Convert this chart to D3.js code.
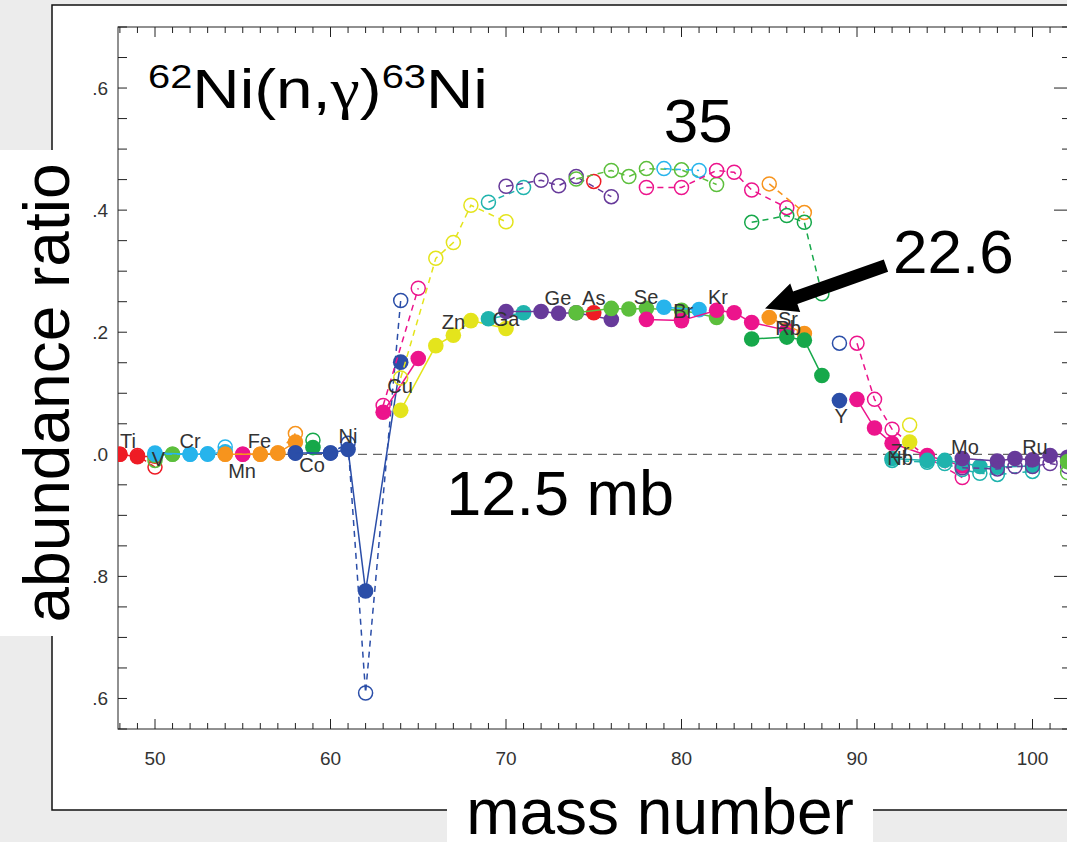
<!DOCTYPE html>
<html>
<head>
<meta charset="utf-8">
<script src="https://cdn.jsdelivr.net/npm/d3@7"></script>
<style>
  html, body { margin: 0; padding: 0; background: #ececec; }
  svg { display: block; font-family: "Liberation Sans", Arial, Helvetica, sans-serif; }
</style>
</head>
<body>
<svg id="chart" width="1067" height="842"></svg>
<script>
// ---------------- data ----------------
const elements = ["Ti","V","Cr","Mn","Fe","Co","Ni","Cu","Zn","Ga","Ge","As","Se","Br","Kr","Rb","Sr","Y","Zr","Nb","Mo","Ru","Pd"];
const palette = ["#ee1c25","#5cbf3c","#27b4ec","#ec148c","#f7941d","#16a84a","#2b4ea8","#ec148c","#e4e41c","#1fb3ad","#673a9a","#ee1c25","#5cbf3c","#27b4ec","#ec148c","#f7941d","#16a84a","#2b4ea8","#ec148c","#e4e41c","#1fb3ad","#673a9a","#5cbf3c"];

const isotopeMasses = [
  [48,49,50], [50,51], [50,52,53,54], [55], [54,56,57,58], [59], [58,60,61,62,64],
  [63,65], [64,66,67,68,70], [69,71], [70,72,73,74,76], [75], [74,76,77,78,80,82],
  [79,81], [78,80,82,83,84,86], [85,87], [84,86,87,88], [89], [90,91,92,94,96],
  [93], [92,94,95,96,97,98,100], [96,98,99,100,101,102], [102]
];
// abundance ratios, sigma = 22.6 mb (filled, solid)
const ratio226 = [
  [1.000,0.996,0.997], [0.998,1.000], [1.002,1.000,1.000,1.004], [1.000], [1.000,1.000,1.002,1.020], [1.011],
  [1.002,1.002,1.008,0.776,1.151], [1.069,1.157], [1.072,1.178,1.195,1.219,1.206], [1.222,1.232],
  [1.234,1.234,1.231,1.232,1.221], [1.232], [1.232,1.239,1.238,1.239,1.236,1.224], [1.241,1.237],
  [1.221,1.219,1.236,1.232,1.216,1.203], [1.224,1.198], [1.189,1.192,1.187,1.129], [1.088],
  [1.090,1.043,1.018,0.998,0.981], [1.020], [0.993,0.990,0.990,0.986,0.980,0.979,0.981],
  [0.993,0.989,0.993,0.991,0.998,0.995], [0.988]
];
// abundance ratios, sigma = 35 mb (open, dashed)
const ratio35 = [
  [1.000,0.998,0.979], [0.990,1.000], [1.000,1.000,1.001,1.012], [1.000], [1.000,1.000,1.002,1.034], [1.023],
  [1.002,1.002,1.018,0.609,1.252], [1.080,1.272], [1.125,1.321,1.347,1.408,1.381], [1.413,1.437],
  [1.439,1.449,1.440,1.455,1.422], [1.447], [1.451,1.465,1.455,1.468,1.466,1.442], [1.468,1.465],
  [1.437,1.437,1.465,1.462,1.433,1.404], [1.443,1.396], [1.380,1.391,1.380,1.263], [1.182],
  [1.182,1.090,1.041,0.995,0.962], [1.048], [0.990,0.987,0.985,0.975,0.969,0.967,0.972],
  [0.978,0.976,0.980,0.980,0.985,0.980], [0.970]
];

// element labels (anchor in data units: mass, ratio)
const labelNames = ["Ti","V","Cr","Mn","Fe","Co","Ni","Cu","Zn","Ga","Ge","As","Se","Br","Kr","Sr","Rb","Y","Zr","Nb","Mo","Ru"];
const labelMass  = [48.46,50.2,52.0,54.96,55.95,58.95,61.0,63.96,67.0,70.0,72.96,75.0,77.98,80.1,82.08,86.07,86.07,89.1,92.45,92.45,96.15,100.14];
const labelRatio = [1.011,0.981,1.011,0.962,1.011,0.971,1.018,1.100,1.206,1.211,1.244,1.244,1.247,1.223,1.247,1.211,1.195,1.051,0.994,0.982,1.000,1.000];

const xTickValues = [50,60,70,80,90,100];
const yTickValues = [1.6,1.4,1.2,1.0,0.8,0.6];
const yTickLabels = [".6",".4",".2",".0",".8",".6"];

// ---------------- layout ----------------
const svg = d3.select("#chart");
const W = 1067, H = 842;
const plot = {left: 118, top: 27, bottom: 729, right: 1069};

const x = d3.scaleLinear().domain([50, 100]).range([155, 1032.5]);
const y = d3.scaleLinear().domain([0.55, 1.7]).range([plot.bottom, plot.top]);
const color = d3.scaleOrdinal(elements, palette);

// background
svg.append("rect").attr("width", W).attr("height", H).attr("fill", "#ececec");
svg.append("rect").attr("x", 52).attr("y", 5).attr("width", 1100).attr("height", 805)
  .attr("fill", "#fff").attr("stroke", "#111").attr("stroke-width", 1.5);

// clip
svg.append("clipPath").attr("id", "clip").append("rect")
  .attr("x", plot.left).attr("y", plot.top)
  .attr("width", plot.right - plot.left).attr("height", plot.bottom - plot.top);

// frame
svg.append("rect").attr("x", plot.left).attr("y", plot.top)
  .attr("width", plot.right - plot.left).attr("height", plot.bottom - plot.top)
  .attr("fill", "none").attr("stroke", "#222").attr("stroke-width", 1);

// ticks
const xMinor = d3.range(48, 103, 1);
const tickG = svg.append("g").attr("stroke", "#222").attr("stroke-width", 1);
xMinor.forEach(m => {
  const len = m % 10 === 0 ? 10 : 6;
  const px = x(m);
  if (px < plot.left || px > plot.right) return;
  tickG.append("line").attr("x1", px).attr("x2", px).attr("y1", plot.bottom).attr("y2", plot.bottom - len);
  tickG.append("line").attr("x1", px).attr("x2", px).attr("y1", plot.top).attr("y2", plot.top + len);
});
const yMinor = d3.range(0.55, 1.701, 0.05);
yMinor.forEach(v => {
  const py = y(v);
  const major = Math.abs(Math.round(v * 10) / 10 - v) < 1e-6 && Math.round(v * 10) % 2 === 0;
  tickG.append("line").attr("x1", plot.left).attr("x2", plot.left + 9).attr("y1", py).attr("y2", py);
  tickG.append("line").attr("x1", plot.right).attr("x2", plot.right - (major ? 15 : 7)).attr("y1", py).attr("y2", py);
});

// tick labels
svg.append("g").selectAll("text").data(xTickValues).join("text")
  .attr("x", d => x(d)).attr("y", 765).attr("text-anchor", "middle")
  .attr("font-size", 19).attr("fill", "#333").text(d => d);
svg.append("g").selectAll("text").data(yTickValues).join("text")
  .attr("x", 108).attr("y", d => y(d) + 7).attr("text-anchor", "end")
  .attr("font-size", 19).attr("fill", "#333").text((d, i) => yTickLabels[i]);

// reference line at 1.0
svg.append("line").attr("x1", plot.left).attr("x2", plot.right)
  .attr("y1", y(1.0)).attr("y2", y(1.0))
  .attr("stroke", "#666").attr("stroke-width", 1.3).attr("stroke-dasharray", "9,6");

// series
const seriesG = svg.append("g").attr("clip-path", "url(#clip)");
const line = d3.line().x(d => x(d[0])).y(d => y(d[1]));
elements.forEach((el, i) => {
  const c = color(el);
  const filled = isotopeMasses[i].map((m, j) => [m, ratio226[i][j]]);
  const open = isotopeMasses[i].map((m, j) => [m, ratio35[i][j]]);
  const g = seriesG.append("g");
  if (filled.length > 1) g.append("path").datum(filled).attr("d", line)
    .attr("fill", "none").attr("stroke", c).attr("stroke-width", 1.5);
  g.selectAll("circle.f").data(filled).join("circle").attr("class", "f")
    .attr("cx", d => x(d[0])).attr("cy", d => y(d[1])).attr("r", 7.8).attr("fill", c);
  if (open.length > 1) g.append("path").datum(open).attr("d", line)
    .attr("fill", "none").attr("stroke", c).attr("stroke-width", 1.5).attr("stroke-dasharray", "6,5");
  g.selectAll("circle.o").data(open).join("circle").attr("class", "o")
    .attr("cx", d => x(d[0])).attr("cy", d => y(d[1])).attr("r", 7)
    .attr("fill", "none").attr("stroke", c).attr("stroke-width", 1.5);
});

// element labels
svg.append("g").attr("clip-path", "url(#clip)").selectAll("text").data(labelNames).join("text")
  .attr("x", (d, i) => x(labelMass[i])).attr("y", (d, i) => y(labelRatio[i]))
  .attr("text-anchor", "middle").attr("font-size", 20).attr("fill", "#333").text(d => d);

// title
const title = svg.append("g");
const tt = title.append("text").attr("x", 0).attr("y", 0).attr("fill", "#000");
tt.append("tspan").attr("font-size", 34).attr("dy", -20).text("62");
tt.append("tspan").attr("font-size", 56).attr("dy", 20).text("Ni(n,");
tt.append("tspan").attr("font-size", 56).attr("font-family", "'Liberation Serif', 'DejaVu Serif', serif").text("γ");
tt.append("tspan").attr("font-size", 56).text(")");
tt.append("tspan").attr("font-size", 34).attr("dy", -20).text("63");
tt.append("tspan").attr("font-size", 56).attr("dy", 20).text("Ni");
const tw = tt.node().getComputedTextLength();
title.attr("transform", `translate(148,108) scale(${340 / tw},1)`);

// annotations
svg.append("text").attr("x", x(80.95)).attr("y", y(1.512)).attr("text-anchor", "middle")
  .attr("font-size", 62).attr("fill", "#000").text("35");
svg.append("text").attr("x", x(92.05)).attr("y", y(1.297)).attr("text-anchor", "start")
  .attr("font-size", 62).attr("fill", "#000").text("22.6");
svg.append("text").attr("x", x(66.6)).attr("y", y(0.9)).attr("text-anchor", "start")
  .attr("font-size", 63).attr("fill", "#000").text("12.5 mb");

// arrow
const tip = [x(84.76), y(1.239)], tail = [x(91.65), y(1.309)];
const dx = tail[0] - tip[0], dy = tail[1] - tip[1], L = Math.hypot(dx, dy);
const ux = dx / L, uy = dy / L, nx = -uy, ny = ux;
const headLen = 32, headW = 15, shaftW = 6.5;
const hb = [tip[0] + ux * headLen, tip[1] + uy * headLen];
const pts = [
  tip,
  [hb[0] + nx * headW, hb[1] + ny * headW],
  [hb[0] + nx * shaftW, hb[1] + ny * shaftW],
  [tail[0] + nx * shaftW, tail[1] + ny * shaftW],
  [tail[0] - nx * shaftW, tail[1] - ny * shaftW],
  [hb[0] - nx * shaftW, hb[1] - ny * shaftW],
  [hb[0] - nx * headW, hb[1] - ny * headW]
];
svg.append("polygon").attr("points", pts.map(p => p.join(",")).join(" ")).attr("fill", "#000");

// axis titles
svg.append("rect").attr("x", 447).attr("y", 790).attr("width", 426).attr("height", 52).attr("fill", "#fff");
svg.append("text").attr("x", 660).attr("y", 834).attr("text-anchor", "middle")
  .attr("font-size", 64).attr("fill", "#000").text("mass number");
svg.append("rect").attr("x", 0).attr("y", 150).attr("width", 74).attr("height", 486).attr("fill", "#fff");
svg.append("text").attr("transform", "translate(69,393) rotate(-90)").attr("text-anchor", "middle")
  .attr("font-size", 64).attr("fill", "#000").text("abundance ratio");
</script>
</body>
</html>
